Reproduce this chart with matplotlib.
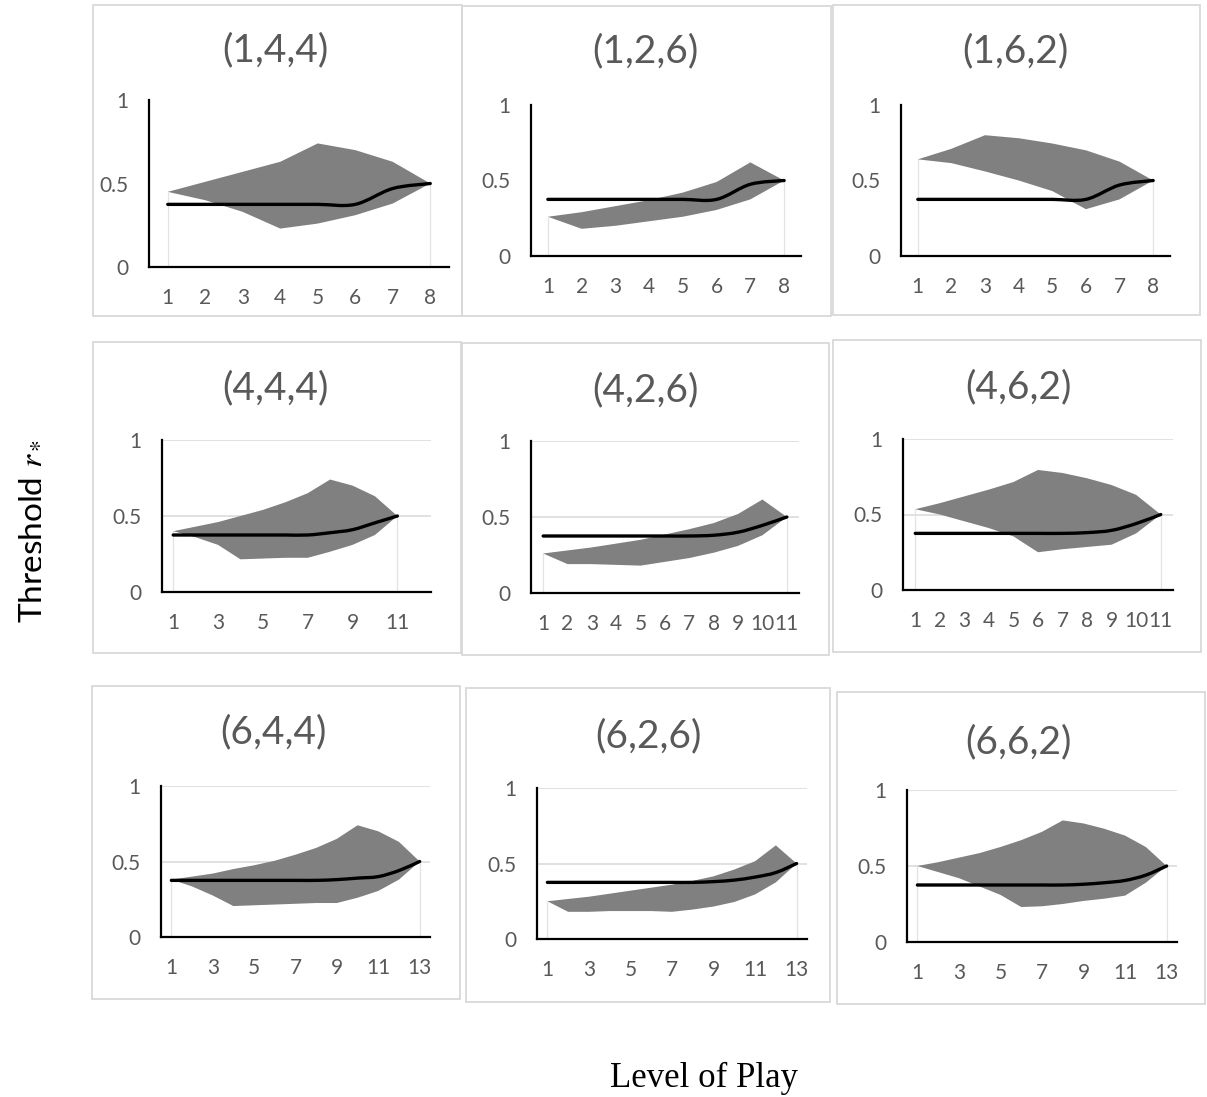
import matplotlib
matplotlib.use("Agg")
import matplotlib.pyplot as plt
from matplotlib.patches import Rectangle, PathPatch
from matplotlib.path import Path

# ==================================================
# DATA
# ==================================================
titles = ["(1,4,4)", "(1,2,6)", "(1,6,2)",
          "(4,4,4)", "(4,2,6)", "(4,6,2)",
          "(6,4,4)", "(6,2,6)", "(6,6,2)"]

n_cats = [8, 8, 8, 12, 11, 11, 13, 13, 13]
tick_step = [1, 1, 1, 2, 1, 1, 2, 2, 2]

hi_144 = [0.45, 0.51, 0.57, 0.63, 0.74, 0.70, 0.63, 0.50]
lo_144 = [0.45, 0.40, 0.33, 0.23, 0.26, 0.31, 0.38, 0.50]
thr_144 = [0.375, 0.375, 0.375, 0.375, 0.375, 0.375, 0.47, 0.50]

hi_126 = [0.26, 0.29, 0.33, 0.37, 0.42, 0.49, 0.62, 0.50]
lo_126 = [0.26, 0.18, 0.20, 0.23, 0.26, 0.305, 0.375, 0.50]
thr_126 = [0.375, 0.375, 0.375, 0.375, 0.375, 0.375, 0.475, 0.50]

hi_162 = [0.64, 0.71, 0.80, 0.78, 0.745, 0.70, 0.625, 0.50]
lo_162 = [0.64, 0.615, 0.56, 0.50, 0.43, 0.31, 0.375, 0.50]
thr_162 = [0.375, 0.375, 0.375, 0.375, 0.375, 0.375, 0.47, 0.50]

hi_444 = [0.40, 0.43, 0.46, 0.50, 0.54, 0.59, 0.65, 0.74, 0.70, 0.63, 0.50]
lo_444 = [0.40, 0.36, 0.31, 0.215, 0.22, 0.225, 0.225, 0.265, 0.31, 0.375, 0.50]
thr_444 = [0.375, 0.375, 0.375, 0.375, 0.375, 0.375, 0.375, 0.39, 0.41, 0.455, 0.50]

hi_426 = [0.26, 0.28, 0.30, 0.325, 0.35, 0.385, 0.42, 0.46, 0.52, 0.615, 0.50]
lo_426 = [0.26, 0.19, 0.19, 0.185, 0.18, 0.205, 0.23, 0.265, 0.31, 0.38, 0.50]
thr_426 = [0.375, 0.375, 0.375, 0.375, 0.375, 0.375, 0.375, 0.38, 0.40, 0.445, 0.50]

hi_462 = [0.535, 0.575, 0.62, 0.665, 0.715, 0.795, 0.775, 0.74, 0.695, 0.63, 0.50]
lo_462 = [0.535, 0.50, 0.455, 0.41, 0.355, 0.25, 0.27, 0.285, 0.30, 0.375, 0.50]
thr_462 = [0.375, 0.375, 0.375, 0.375, 0.375, 0.375, 0.375, 0.38, 0.395, 0.44, 0.50]

hi_644 = [0.38, 0.40, 0.42, 0.45, 0.475, 0.505, 0.545, 0.59, 0.65, 0.74, 0.70, 0.63, 0.50]
lo_644 = [0.38, 0.335, 0.275, 0.205, 0.21, 0.215, 0.22, 0.225, 0.225, 0.26, 0.305, 0.38, 0.50]
thr_644 = [0.375, 0.375, 0.375, 0.375, 0.375, 0.375, 0.375, 0.375, 0.38, 0.39, 0.40, 0.44, 0.50]

hi_626 = [0.25, 0.265, 0.28, 0.30, 0.32, 0.34, 0.36, 0.385, 0.415, 0.46, 0.515, 0.62, 0.50]
lo_626 = [0.25, 0.18, 0.18, 0.185, 0.185, 0.185, 0.18, 0.195, 0.215, 0.245, 0.295, 0.375, 0.50]
thr_626 = [0.375, 0.375, 0.375, 0.375, 0.375, 0.375, 0.375, 0.375, 0.38, 0.39, 0.41, 0.44, 0.50]

hi_662 = [0.50, 0.525, 0.555, 0.585, 0.625, 0.67, 0.725, 0.80, 0.78, 0.745, 0.70, 0.625, 0.50]
lo_662 = [0.50, 0.46, 0.42, 0.365, 0.31, 0.23, 0.235, 0.25, 0.27, 0.285, 0.305, 0.39, 0.50]
thr_662 = [0.375, 0.375, 0.375, 0.375, 0.375, 0.375, 0.375, 0.375, 0.38, 0.39, 0.405, 0.44, 0.50]

upper = [hi_144, hi_126, hi_162, hi_444, hi_426, hi_462, hi_644, hi_626, hi_662]
lower = [lo_144, lo_126, lo_162, lo_444, lo_426, lo_462, lo_644, lo_626, lo_662]
thresh = [thr_144, thr_126, thr_162, thr_444, thr_426, thr_462, thr_644, thr_626, thr_662]

# ==================================================
# LAYOUT (pixels, top-left origin)
# ==================================================
W, H = 1207, 1097

# outer box of each small chart: x0, y0, x1, y1
boxes = [(93, 5, 462, 316), (462, 6, 831, 316), (833, 5, 1200, 315),
         (93, 342, 461, 653), (462, 343, 829, 655), (833, 340, 1201, 652),
         (92, 686, 460, 999), (466, 688, 830, 1002), (837, 692, 1205, 1004)]

# plot area: left, right, y of 0, y of 1
plot_px = [(149, 449, 267, 100), (531, 801, 256, 105), (901, 1170, 256, 105),
           (162, 431, 592, 440), (531, 799, 593, 441), (903, 1173, 590, 439),
           (161, 430, 937, 786), (537, 807, 939, 788), (907, 1177, 942, 790)]

title_px = [(275, 50), (645, 51), (1015, 51),
            (275, 388), (645, 390), (1018, 387),
            (273, 732), (648, 736), (1018, 742)]

grid_rows = [False, False, False, True, True, True, True, True, True]

GREY_TXT = "#595959"
BAND = "#808080"
FONT = "Lato"


def smooth_path(xs, ys):
    # Excel-style smoothed line: cubic Bezier through the points
    pts = list(zip(xs, ys))
    verts = [pts[0]]
    codes = [Path.MOVETO]
    n = len(pts)
    for i in range(n - 1):
        p0 = pts[i - 1] if i > 0 else pts[i]
        p1 = pts[i]
        p2 = pts[i + 1]
        p3 = pts[i + 2] if i + 2 < n else pts[i + 1]
        c1 = (p1[0] + (p2[0] - p0[0]) / 6, p1[1] + (p2[1] - p0[1]) / 6)
        c2 = (p2[0] - (p3[0] - p1[0]) / 6, p2[1] - (p3[1] - p1[1]) / 6)
        verts += [c1, c2, p2]
        codes += [Path.CURVE4] * 3
    return Path(verts, codes)


plt.rcParams["mathtext.fontset"] = "stix"
fig = plt.figure(figsize=(W / 100, H / 100), dpi=100)

for k in range(9):
    bx0, by0, bx1, by1 = boxes[k]
    fig.add_artist(Rectangle((bx0 / W, 1 - by1 / H), (bx1 - bx0) / W, (by1 - by0) / H,
                             transform=fig.transFigure, fill=False,
                             edgecolor="#d9d9d9", linewidth=1.3, zorder=0))

    left, right, y0, y1 = plot_px[k]
    ax = fig.add_axes([left / W, 1 - y0 / H, (right - left) / W, (y0 - y1) / H])
    ax.patch.set_alpha(0)

    n = n_cats[k]
    xs = list(range(1, len(thresh[k]) + 1))

    if grid_rows[k]:
        for g in [0.5, 1.0]:
            ax.axhline(g, color="#d9d9d9", linewidth=1.1, zorder=0)

    # light edge lines of the area series
    ax.vlines([xs[0], xs[-1]], 0, [lower[k][0], lower[k][-1]],
              color="#e3e3e3", linewidth=0.9, zorder=1)

    ax.fill_between(xs, lower[k], upper[k], facecolor=BAND, edgecolor="none",
                    linewidth=0, zorder=2)

    ax.add_patch(PathPatch(smooth_path(xs, thresh[k]), facecolor="none",
                           edgecolor="black", linewidth=2.4, capstyle="round",
                           zorder=3))

    ax.set_xlim(0.5, n + 0.5)
    ax.set_ylim(0, 1)

    ax.set_yticks([0, 0.5, 1])
    ax.set_yticklabels(["0", "0.5", "1"])
    xt = list(range(1, n + 1, tick_step[k]))
    ax.set_xticks(xt)
    ax.set_xticklabels([str(v) for v in xt])

    ax.tick_params(length=0, labelsize=15, labelcolor=GREY_TXT)
    ax.tick_params(axis="y", pad=15)
    ax.tick_params(axis="x", pad=15)
    for lab in ax.get_xticklabels() + ax.get_yticklabels():
        lab.set_fontfamily(FONT)

    for s in ["top", "right"]:
        ax.spines[s].set_visible(False)
    for s in ["left", "bottom"]:
        ax.spines[s].set_color("black")
        ax.spines[s].set_linewidth(1.6)

    tx, ty = title_px[k]
    fig.text(tx / W, 1 - ty / H, titles[k], ha="center", va="center",
             fontsize=28, color=GREY_TXT, fontfamily=FONT)

# global labels
fig.text(30 / W, 1 - 531 / H, r"Threshold $r_*$", rotation=90,
         ha="center", va="center", fontsize=24, color="black", fontfamily=FONT)
fig.text(704 / W, 1 - 1078 / H, "Level of Play", ha="center", va="center",
         fontsize=25, color="black", fontfamily="Liberation Serif")

fig.savefig("out.png", dpi=100)
